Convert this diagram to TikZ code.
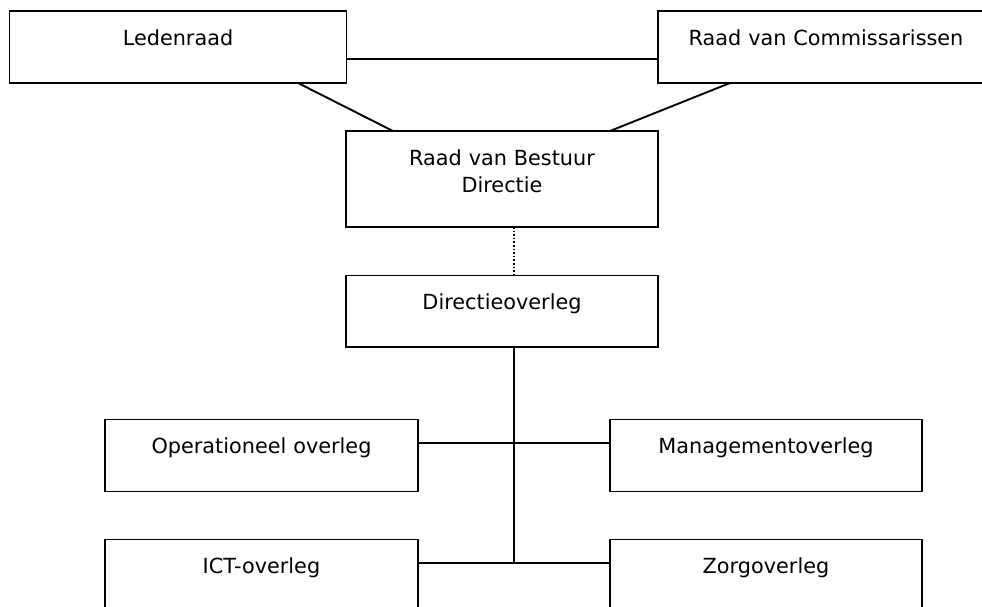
\documentclass[tikz,border=0pt]{standalone}
\usepackage{fontspec}
\setmainfont{DejaVu Sans}
\begin{document}
\begin{tikzpicture}[x=1pt,y=-1pt,
  box/.style 2 args={draw, line width=1.9pt, inner sep=0pt, outer sep=0pt,
    anchor=north west, text width=#1, align=center,
    text height=34pt, text depth=#2,
    font=\fontsize{20.8}{27}\selectfont},
  conn/.style={line width=1.9pt},
  dotconn/.style={line width=1.6pt, dotted}]
\useasboundingbox (0,0) rectangle (982,606);
\clip (0,0) rectangle (982,606);
% boxes
\node[box={337pt}{38pt}] (led) at (9.5,11) {Ledenraad};
\node[box={336pt}{38pt}] (rvc) at (658,11) {Raad van Commissarissen};
\node[box={312pt}{62pt}] (rvb) at (346,131) {Raad van Bestuur\\Directie};
\node[box={312pt}{37.5pt}] (dio) at (346,275.5) {Directieoverleg};
\node[box={313pt}{38pt}] (ope) at (105,419.5) {Operationeel overleg};
\node[box={312pt}{38pt}] (man) at (610,419.5) {Managementoverleg};
\node[box={313pt}{38pt}] (ict) at (105,539.5) {ICT-overleg};
\node[box={312pt}{38pt}] (zor) at (610,539.5) {Zorgoverleg};
% connectors
\draw[conn] (led.east |- 0,59.3) -- (rvc.west |- 0,59.3);
\draw[conn] (298,0 |- led.south) -- (393,0 |- rvb.north);
\draw[conn] (730,0 |- rvc.south) -- (610,0 |- rvb.north);
\draw[dotconn] (514,0 |- rvb.south) -- (514,0 |- dio.north);
\coordinate (bot) at (514,563.3);
\draw[conn] (514,0 |- dio.south) -- (bot);
\draw[conn] (ope.east |- 0,443.3) -- (man.west |- 0,443.3);
\draw[conn] (ict.east |- bot) -- (zor.west |- bot);
\end{tikzpicture}
\end{document}
